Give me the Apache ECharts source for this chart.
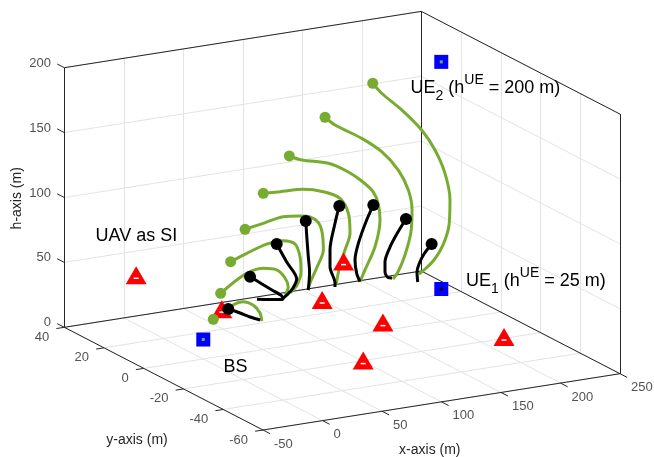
<!DOCTYPE html>
<html><head><meta charset="utf-8">
<script src="https://cdn.jsdelivr.net/npm/echarts@6/dist/echarts.min.js"></script>
<style>html,body{margin:0;padding:0;background:#fff}#c{width:654px;height:457px}</style>
</head><body><div id="c"></div>
<script>
// ---------- data ----------
const xTicks = [-50, 0, 50, 100, 150, 200, 250];
const yTicks = [-60, -40, -20, 0, 20, 40];
const hTicks = [0, 50, 100, 150, 200];

const bsPos  = [0, 0, 15];
const ue1Pos = [200, 0, 25];
const ue2Pos = [200, 0, 200];
const siPositions = [[-23, 20, 52], [74, 35, 0], [168, 30, 27], [150, 30, 0], [161, 6, 0], [101, -20, 0], [221, -19, 0]];

// UAV trajectories for UE1 (black), points [x, y, h]
const ue1Trajectories = [
  [[54.4,20,14.8],[64.3,20,10.3],[72.7,20,6.0],[81.1,20,2.5]],
  [[72.7,20,37.1],[82.7,20,30.0],[91.1,20,24.2],[99.3,20,18.4],[100.4,20,15.5],[89.5,20,17.1],[78.5,20,18.8]],
  [[95.1,20,59.0],[103.5,20,43.9],[111.9,20,29.6],[108.8,20,23.1],[104.6,20,19.1],[100.6,20,16.6]],
  [[119.5,20,73.2],[120.6,20,58.4],[121.6,20,45.9],[122.7,20,33.5],[121.6,20,19.7]],
  [[147.7,20,80.7],[144.1,20,67.9],[139.9,20,47.9],[139.9,20,35.1],[144.1,20,21.7],[144.1,20,18.8]],
  [[176.3,20,77.3],[170.7,20,66.6],[163.7,20,49.6],[160.9,20,37.2],[162.3,20,26.7],[165.1,20,19.9]],
  [[203.7,20,62.6],[197.0,20,53.5],[190.3,20,42.9],[186.1,20,32.0],[186.1,20,24.3],[188.6,20,19.7],[192.0,20,18.8]],
  [[225.3,20,40.2],[218.9,20,33.4],[214.7,20,26.3],[213.0,20,20.4],[213.6,20,12.6]]
];
// UAV trajectories for UE2 (green)
const ue2Trajectories = [
  [[41.8,20,8.7],[47.4,20,11.2],[58.4,20,17.3],[67.0,20,18.6],[75.2,20,14.9],[81.1,20,7.9],[82.5,20,1.5]],
  [[48.0,20,27.8],[61.5,20,36.1],[72.7,20,40.9],[83.8,20,41.9],[95.1,20,39.0],[102.1,20,31.8],[104.8,20,24.5],[102.1,20,18.7]],
  [[56.4,20,51.0],[69.9,20,55.5],[86.7,20,60.2],[100.6,20,60.8],[110.5,20,56.8],[114.7,20,46.4],[115.5,20,34.5],[112.2,20,25.0],[106.3,20,19.7]],
  [[68.5,20,74.2],[83.8,20,76.6],[100.6,20,79.3],[114.7,20,77.8],[123.1,20,75.8],[129.8,20,70.9],[133.2,20,62.8],[134.3,20,48.7],[129.0,20,36.4],[123.1,20,24.9],[121.4,20,19.8]],
  [[83.8,20,99.7],[97.9,20,98.9],[117.4,20,97.9],[134.3,20,93.6],[148.3,20,86.5],[155.3,20,74.0],[156.7,20,58.4],[152.5,20,46.1],[148.3,20,35.1],[144.9,20,20.2]],
  [[105.7,20,125.3],[116.1,20,120.7],[138.5,20,114.9],[155.3,20,105.8],[167.6,20,96.3],[176.3,20,87.3],[180.5,20,77.5],[181.9,20,65.0],[177.7,20,45.0],[169.3,20,28.3],[165.1,20,19.9]],
  [[135.7,20,150.8],[144.1,20,143.6],[166.5,20,130.1],[183.3,20,117.4],[197.3,20,101.2],[205.7,20,84.6],[208.8,20,68.8],[207.9,20,51.9],[202.9,20,35.0],[197.0,20,22.7],[192.8,20,17.9]],
  [[175.8,20,171.2],[183.3,20,162.4],[200.1,20,147.1],[216.9,20,129.2],[228.1,20,112.2],[236.5,20,93.0],[240.7,20,71.9],[239.9,20,52.7],[234.8,20,38.0],[227.3,20,27.6],[218.9,20,21.1],[214.7,20,18.6]]
];

// ---------- 3D view (layout) ----------
const X_MIN = xTicks[0], X_MAX = xTicks[xTicks.length - 1];
const Y_MIN = yTicks[0], Y_MAX = yTicks[yTicks.length - 1];
const H_MIN = hTicks[0], H_MAX = hTicks[hTicks.length - 1];
const P0 = [64.3, 327.3];     // pixel of corner (xMin, yMax, hMin)
const EX = [357, -56.3];      // pixel span of full x range
const EY = [198.7, 102.7];    // pixel span of y range (yMax -> yMin)
const EZ = [0, -259.6];       // pixel span of full h range
function project(x, y, h) {
  const fx = (x - X_MIN) / (X_MAX - X_MIN);
  const fy = (Y_MAX - y) / (Y_MAX - Y_MIN);
  const fh = (h - H_MIN) / (H_MAX - H_MIN);
  return [P0[0] + EX[0]*fx + EY[0]*fy + EZ[0]*fh, P0[1] + EX[1]*fx + EY[1]*fy + EZ[1]*fh];
}
function seg(a, b) { return { coords: [project(a[0],a[1],a[2]), project(b[0],b[1],b[2])] }; }
function unit(v) { const l = Math.hypot(v[0], v[1]); return [v[0]/l, v[1]/l]; }

const GRID = '#e3e3e3', AX = '#262626', GREEN = '#77AC30';
const FONT = 'Liberation Sans, Arial, Helvetica, sans-serif';

// grid lines
const gridSegs = [];
xTicks.forEach(x => { gridSegs.push(seg([x,Y_MIN,H_MIN],[x,Y_MAX,H_MIN])); gridSegs.push(seg([x,Y_MAX,H_MIN],[x,Y_MAX,H_MAX])); });
yTicks.forEach(y => { gridSegs.push(seg([X_MIN,y,H_MIN],[X_MAX,y,H_MIN])); gridSegs.push(seg([X_MAX,y,H_MIN],[X_MAX,y,H_MAX])); });
hTicks.forEach(h => { gridSegs.push(seg([X_MIN,Y_MAX,h],[X_MAX,Y_MAX,h])); gridSegs.push(seg([X_MAX,Y_MIN,h],[X_MAX,Y_MAX,h])); });

// box edges
const boxSegs = [
  seg([X_MIN,Y_MAX,H_MAX],[X_MAX,Y_MAX,H_MAX]),
  seg([X_MAX,Y_MAX,H_MAX],[X_MAX,Y_MIN,H_MAX]),
  seg([X_MAX,Y_MIN,H_MIN],[X_MAX,Y_MIN,H_MAX]),
  seg([X_MIN,Y_MAX,H_MIN],[X_MIN,Y_MAX,H_MAX]),
  seg([X_MAX,Y_MAX,H_MIN],[X_MAX,Y_MAX,H_MAX]),
  seg([X_MIN,Y_MAX,H_MIN],[X_MAX,Y_MAX,H_MIN]),
  seg([X_MAX,Y_MAX,H_MIN],[X_MAX,Y_MIN,H_MIN]),
  seg([X_MIN,Y_MAX,H_MIN],[X_MIN,Y_MIN,H_MIN]),
  seg([X_MIN,Y_MIN,H_MIN],[X_MAX,Y_MIN,H_MIN])
];

// tick marks
const TL = 8;
const dY = unit(EY), dX = unit(EX);
const tickSegs = [];
const hLab = [], yLab = [], xLab = [];
hTicks.forEach(h => { const p = project(X_MIN,Y_MAX,h); tickSegs.push({coords:[p,[p[0]-dY[0]*TL,p[1]-dY[1]*TL]]}); hLab.push([p[0],p[1],String(h)]); });
xTicks.forEach(x => { const p = project(x,Y_MIN,H_MIN); tickSegs.push({coords:[p,[p[0]+dY[0]*TL,p[1]+dY[1]*TL]]}); xLab.push([p[0],p[1],String(x)]); });
yTicks.forEach(y => { const p = project(X_MIN,y,H_MIN); tickSegs.push({coords:[p,[p[0]-dX[0]*TL,p[1]-dX[1]*TL]]}); yLab.push([p[0],p[1],String(y)]); });

function linesSeries(data, color, width, z) {
  return { type:'lines', coordinateSystem:'cartesian2d', data, silent:true, z,
           lineStyle:{ color, width, opacity:1, type:'solid' }, effect:{show:false} };
}
function labelSeries(data, dx, dy, align) {
  return { type:'scatter', data, symbolSize:2, itemStyle:{color:'rgba(0,0,0,0)'}, silent:true, z:20,
    label:{ show:true, position:[dx+1, dy+1], align, verticalAlign:'middle', formatter:p => p.value[2],
            fontFamily:FONT, fontSize:13, color:AX } };
}
function markSeries(data, symbol, size, color, z, offset) {
  const s = { type:'scatter', data, symbol, symbolSize:size, itemStyle:{color, opacity:1}, silent:true, z };
  if (offset) s.symbolOffset = offset;
  return s;
}

const series = [
  linesSeries(gridSegs, GRID, 1, 1),
  linesSeries(boxSegs, AX, 1, 2),
  linesSeries(tickSegs, AX, 1, 2)
];
ue2Trajectories.forEach(t => series.push({ type:'line', data:t.map(p => project(p[0],p[1],p[2])), smooth:0.3,
  showSymbol:false, symbol:'none', silent:true, z:5, lineStyle:{color:GREEN, width:3, opacity:1}, clip:false }));
ue1Trajectories.forEach(t => series.push({ type:'line', data:t.map(p => project(p[0],p[1],p[2])), smooth:0.3,
  showSymbol:false, symbol:'none', silent:true, z:6, lineStyle:{color:'#000', width:3, opacity:1}, clip:false }));
const siPix = siPositions.map(p => project(p[0],p[1],p[2]));
series.push(markSeries(siPix, 'triangle', [21,18], '#ff0000', 7));
series.push(markSeries(siPix, 'rect', [5,1.5], '#ffffff', 8, [0,3]));
series.push(markSeries(ue2Trajectories.map(t => project(t[0][0],t[0][1],t[0][2])), 'circle', 11, GREEN, 9));
series.push(markSeries(ue1Trajectories.map(t => project(t[0][0],t[0][1],t[0][2])), 'circle', 12, '#000000', 10));
const nodes = [bsPos, ue1Pos, ue2Pos].map(p => project(p[0],p[1],p[2]));
series.push(markSeries(nodes, 'rect', 14, '#0000ff', 11));
series.push(markSeries([nodes[0], nodes[2]], 'rect', 3, GREEN, 12));
series.push(markSeries([nodes[1]], 'rect', 3, '#000000', 12));
series.push(labelSeries(hLab, -13.3, -4.5, 'right'));
series.push(labelSeries(yLab, -15, 10, 'right'));
series.push(labelSeries(xLab, 11, 14, 'left'));

const rich = {
  n:   { fontSize:18, lineHeight:30, verticalAlign:'middle', fontFamily:FONT, color:'#000' },
  sup: { fontSize:14, lineHeight:18, verticalAlign:'top', fontFamily:FONT, color:'#000' },
  sub: { fontSize:14, lineHeight:12, verticalAlign:'bottom', fontFamily:FONT, color:'#000' }
};
function annText(x, y, text) {
  return { type:'text', x, y, silent:true, z:30,
    style:{ text, rich, align:'left', verticalAlign:'middle', fill:'#000', font:'18px ' + FONT } };
}
function axTitle(x, y, text, rot) {
  return { type:'text', x, y, rotation:rot || 0, silent:true, z:30,
    style:{ text, align:'center', verticalAlign:'middle', fill:AX, font:'14px ' + FONT } };
}

const chart = echarts.init(document.getElementById('c'), null, { renderer:'canvas' });
chart.setOption({
  animation:false,
  backgroundColor:'#fff',
  grid:{ left:0, right:0, top:0, bottom:0 },
  xAxis:{ type:'value', min:0, max:654, show:false },
  yAxis:{ type:'value', min:0, max:457, inverse:true, show:false },
  series,
  graphic:[
    axTitle(429.8, 449.7, 'x-axis (m)'),
    axTitle(137, 439.7, 'y-axis (m)'),
    axTitle(16.7, 198.3, 'h-axis (m)', Math.PI / 2),
    annText(95.5, 236, '{n|UAV as SI}'),
    annText(223.6, 367.3, '{n|BS}'),
    annText(410.5, 88, '{n|UE}{sub|2}{n| (h}{sup|UE}{n| = 200 m)}'),
    annText(466, 281, '{n|UE}{sub|1}{n| (h}{sup|UE}{n| = 25 m)}')
  ]
});
</script></body></html>
